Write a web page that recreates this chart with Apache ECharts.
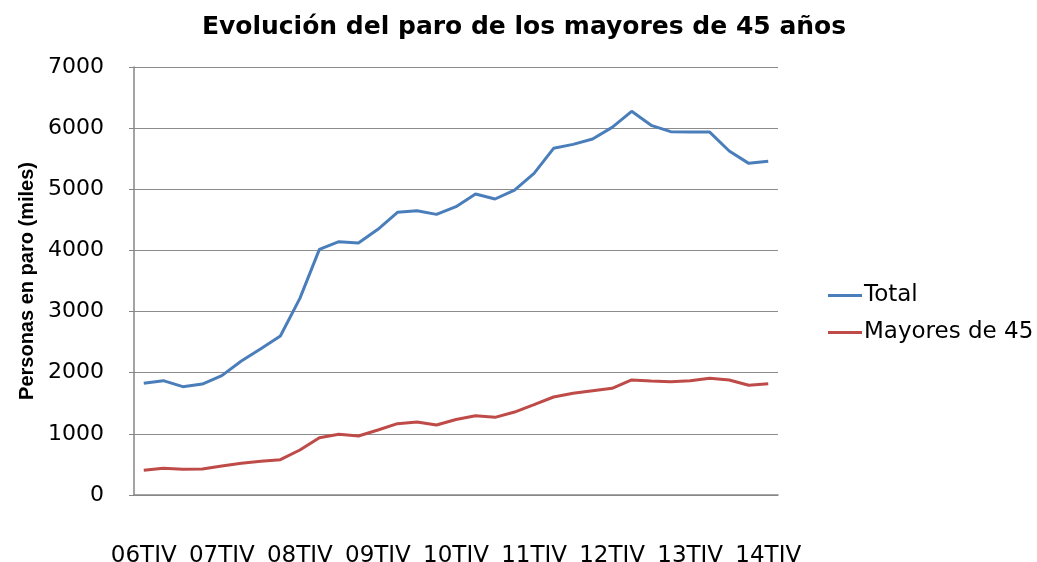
<!DOCTYPE html>
<html>
<head>
<meta charset="utf-8">
<script src="https://cdn.jsdelivr.net/npm/echarts@6/dist/echarts.min.js"></script>
<style>
html,body{margin:0;padding:0;background:#fff;}
#chart{width:1037px;height:562px;}
</style>
</head>
<body>
<div id="chart"></div>
<script>
// Quarters from 2006 Q4 (06TIV) to 2014 Q4 (14TIV)
const categories = [
  "06TIV",
  "07TI","07TII","07TIII","07TIV",
  "08TI","08TII","08TIII","08TIV",
  "09TI","09TII","09TIII","09TIV",
  "10TI","10TII","10TIII","10TIV",
  "11TI","11TII","11TIII","11TIV",
  "12TI","12TII","12TIII","12TIV",
  "13TI","13TII","13TIII","13TIV",
  "14TI","14TII","14TIII","14TIV"
];
const totalValues = [
  1826, 1870, 1772, 1815,
  1952, 2192, 2393, 2600,
  3216, 4018, 4143, 4121,
  4345, 4623, 4650, 4590,
  4716, 4923, 4841, 4988,
  5261, 5670, 5735, 5822,
  6013, 6275, 6046, 5942,
  5937, 5935, 5626, 5424,
  5457
];
const mayoresValues = [
  403, 436, 420, 425,
  474, 518, 551, 578,
  736, 938, 992, 965,
  1063, 1167, 1194, 1145,
  1235, 1297, 1270, 1357,
  1477, 1603, 1663, 1706,
  1745, 1881, 1864, 1854,
  1870, 1908, 1881, 1794,
  1821
];
const seriesNames = ["Total", "Mayores de 45"];
const yTicks = [0, 1000, 2000, 3000, 4000, 5000, 6000, 7000];

const chart = echarts.init(document.getElementById('chart'), null, {renderer: 'canvas'});
chart.setOption({
  animation: false,
  backgroundColor: '#ffffff',
  title: {
    text: 'Evolución del paro de los mayores de 45 años',
    left: 519, top: 10, textAlign: 'center',
    textStyle: {fontFamily: 'DejaVu Sans', fontWeight: 'bold', fontSize: 25, color: '#000'}
  },
  legend: {
    orient: 'vertical',
    left: 823, top: 279,
    itemGap: 14,
    itemWidth: 34, itemHeight: 3,
    icon: 'rect',
    data: seriesNames,
    textStyle: {fontFamily: 'DejaVu Sans', fontSize: 23, color: '#000', padding: [0,0,0,-3]}
  },
  grid: {left: 134, right: 259, top: 67, bottom: 67, containLabel: false, outerBoundsMode: 'none'},
  xAxis: {
    type: 'category',
    data: categories,
    boundaryGap: true,
    axisLine: {show: true, lineStyle: {color: '#868686', width: 1.5}},
    axisTick: {show: false},
    axisLabel: {
      interval: 3, margin: 50, color: '#000',
      fontFamily: 'DejaVu Sans', fontSize: 23
    },
    splitLine: {show: false}
  },
  yAxis: {
    type: 'value',
    min: yTicks[0], max: yTicks[yTicks.length - 1], interval: 1000,
    name: 'Personas en paro (miles)',
    nameLocation: 'middle',
    nameGap: 95,
    nameRotate: 90,
    nameTextStyle: {fontFamily: 'Liberation Sans', fontWeight: 'bold', fontSize: 20, color: '#000'},
    axisLine: {show: true, lineStyle: {color: '#868686', width: 1.5}},
    axisTick: {show: true, length: 5, lineStyle: {color: '#868686'}},
    axisLabel: {margin: 30, color: '#000', fontFamily: 'DejaVu Sans', fontSize: 22,
      formatter: function (v) { return String(v); }},
    splitLine: {show: true, lineStyle: {color: '#8c8c8c', width: 1.2}}
  },
  series: [
    {name: seriesNames[0], type: 'line', data: totalValues, symbol: 'none',
     lineStyle: {color: '#4A7EBB', width: 3}, itemStyle: {color: '#4A7EBB'}},
    {name: seriesNames[1], type: 'line', data: mayoresValues, symbol: 'none',
     lineStyle: {color: '#BE4B48', width: 3}, itemStyle: {color: '#BE4B48'}}
  ]
});
</script>
</body>
</html>
